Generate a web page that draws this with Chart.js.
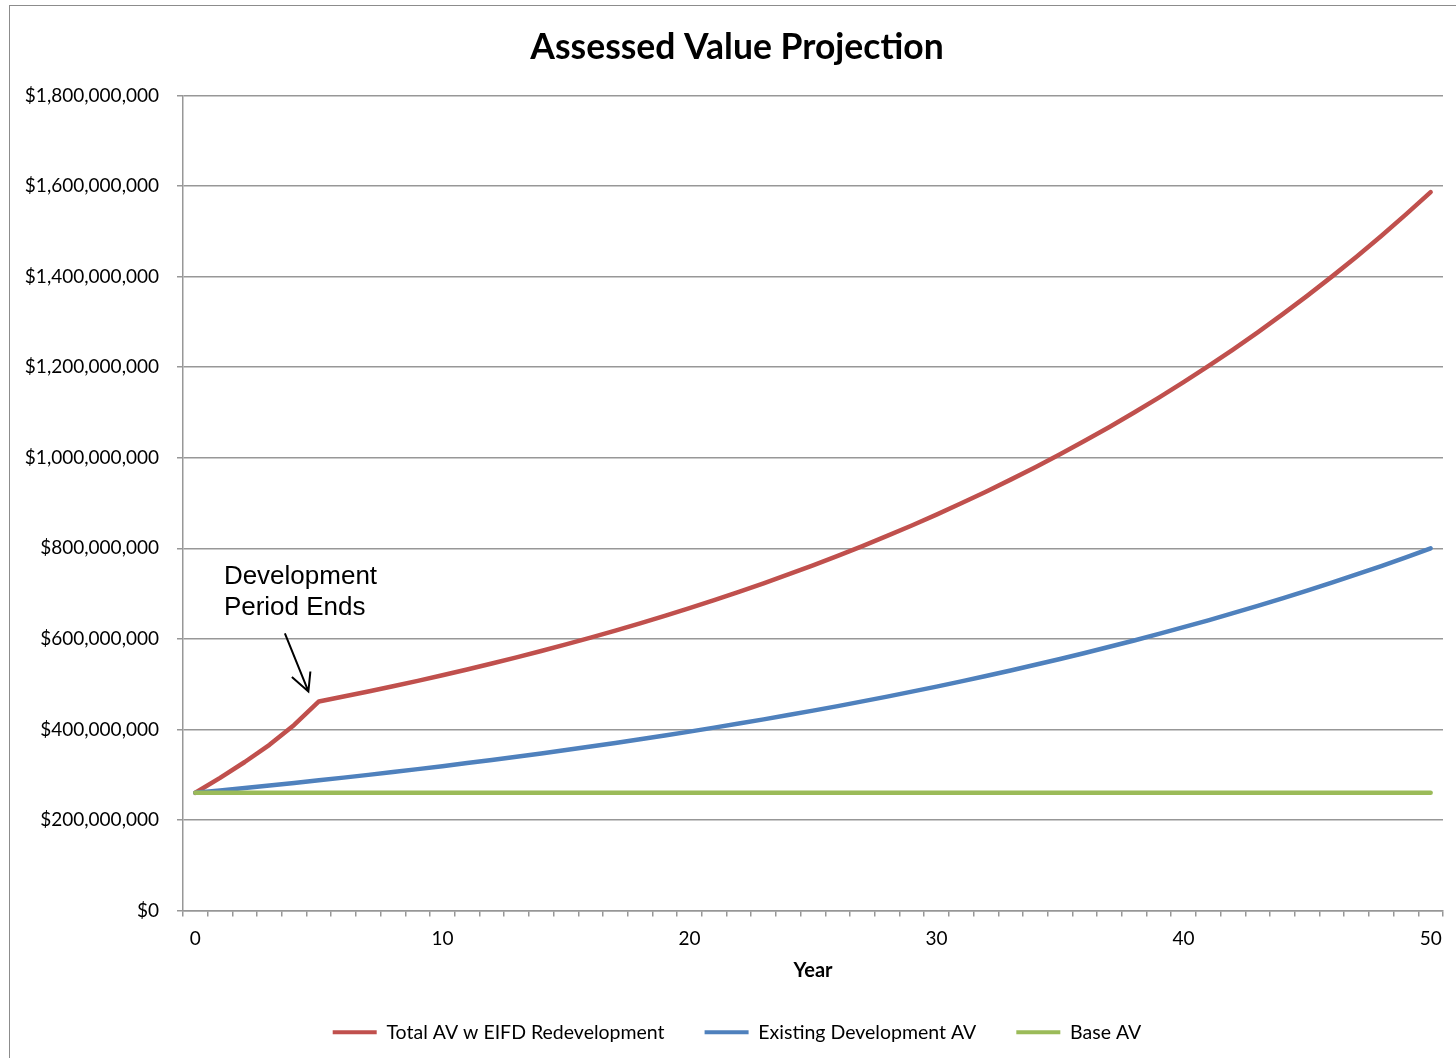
<!DOCTYPE html>
<html>
<head>
<meta charset="utf-8">
<title>Assessed Value Projection</title>
<script src="https://cdn.jsdelivr.net/npm/chart.js@4.4.1/dist/chart.umd.min.js"></script>
<style>
    html, body { margin: 0; padding: 0; background: #fff; overflow: hidden; }
    #frame {
        position: absolute; left: 9px; top: 5px; width: 1460px; height: 1060px;
        border-left: 1px solid #8c8c8c; border-top: 1px solid #8c8c8c;
    }
    #wrap { position: absolute; left: 10px; top: 6px; width: 1446px; height: 1052px; }
</style>
</head>
<body>
<div id="frame"></div>
<div id="wrap"><canvas id="avChart"></canvas></div>
<script>
// projection years 0..50
const years = Array.from({ length: 51 }, (_, i) => i);
const xTickLabels = [0, 10, 20, 30, 40, 50];

// values in $ millions
const totalAV = [
    260, 293, 328, 366, 410, 461.7, 472.6, 483.8, 495.4, 507.3,
    519.7, 532.4, 545.6, 559.2, 573.2, 587.7, 602.7, 618.2, 634.2, 650.7,
    667.8, 685.5, 703.8, 722.7, 742.2, 762.4, 783.3, 805.0, 827.4, 850.5,
    874.5, 899.4, 925.1, 951.7, 979.3, 1007.8, 1037.4, 1068.1, 1099.9, 1132.8,
    1167.0, 1202.4, 1239.1, 1277.2, 1316.7, 1357.6, 1400.1, 1444.2, 1490.0, 1537.6,
    1586.9
];
const existingAV = [
    260.0, 265.2, 270.6, 276.1, 281.8, 287.5, 293.5, 299.6, 305.8, 312.3,
    318.8, 325.6, 332.5, 339.6, 347.0, 354.5, 362.2, 370.1, 378.2, 386.5,
    395.1, 403.9, 412.9, 422.2, 431.7, 441.5, 451.5, 461.9, 472.5, 483.4,
    494.6, 506.2, 518.0, 530.2, 542.7, 555.6, 568.9, 582.5, 596.5, 610.9,
    625.8, 641.0, 656.7, 672.9, 689.5, 706.6, 724.2, 742.3, 760.9, 780.1,
    799.9
];
const baseAV = [
    260, 260, 260, 260, 260, 260, 260, 260, 260, 260,
    260, 260, 260, 260, 260, 260, 260, 260, 260, 260,
    260, 260, 260, 260, 260, 260, 260, 260, 260, 260,
    260, 260, 260, 260, 260, 260, 260, 260, 260, 260,
    260, 260, 260, 260, 260, 260, 260, 260, 260, 260,
    260
];

const devEndYear = 5;
const devNote = ['Development', 'Period Ends'];

const GRID = '#979797';
const FONT = 'Lato, "Open Sans", sans-serif';

function fmtDollars(v) {
    return '$' + Math.round(v * 1e6).toLocaleString('en-US');
}

// callout text + arrow pointing at the end of the development period
const devCallout = {
    id: 'devCallout',
    afterDatasetsDraw(chart) {
        const ctx = chart.ctx;
        const px = chart.scales.x.getPixelForValue(devEndYear);
        const py = chart.scales.y.getPixelForValue(totalAV[devEndYear]);
        ctx.save();
        ctx.fillStyle = '#000';
        ctx.font = '26px "Liberation Sans", Arial, sans-serif';
        ctx.textBaseline = 'middle';
        ctx.textAlign = 'left';
        ctx.fillText(devNote[0], px - 95, py - 125);
        ctx.fillText(devNote[1], px - 95, py - 94);

        const tipX = px - 10.5, tipY = py - 10;
        ctx.strokeStyle = '#000';
        ctx.lineWidth = 2;
        ctx.beginPath();
        ctx.moveTo(px - 34, py - 68);
        ctx.lineTo(tipX, tipY);
        ctx.moveTo(px - 27, py - 24.5);
        ctx.lineTo(tipX, tipY);
        ctx.lineTo(px - 8.5, py - 30);
        ctx.stroke();
        ctx.restore();
    }
};

const ctx = document.getElementById('avChart').getContext('2d');

new Chart(ctx, {
    type: 'line',
    data: {
        labels: years,
        datasets: [{
            label: 'Total AV w EIFD Redevelopment',
            data: totalAV,
            borderColor: '#C0504D',
            backgroundColor: '#C0504D',
            order: 2
        }, {
            label: 'Existing Development AV',
            data: existingAV,
            borderColor: '#4F81BD',
            backgroundColor: '#4F81BD',
            order: 1
        }, {
            label: 'Base AV',
            data: baseAV,
            borderColor: '#9BBB59',
            backgroundColor: '#9BBB59',
            order: 0
        }]
    },
    options: {
        responsive: true,
        maintainAspectRatio: false,
        animation: false,
        layout: { padding: { left: 21, right: 13, top: 0, bottom: 6 } },
        elements: {
            line: { borderWidth: 4.5, tension: 0, borderCapStyle: 'round', borderJoinStyle: 'round' },
            point: { radius: 0, hoverRadius: 0 }
        },
        plugins: {
            title: {
                display: true,
                text: 'Assessed Value Projection',
                color: '#000',
                font: { family: FONT, size: 35.5, weight: 'bold' },
                padding: { top: 20, bottom: 27 }
            },
            legend: {
                position: 'bottom',
                labels: {
                    color: '#000',
                    font: { family: FONT, size: 19.5 },
                    boxWidth: 44,
                    boxHeight: 4,
                    padding: 40,
                    sort: (a, b) => a.datasetIndex - b.datasetIndex,
                    generateLabels(chart) {
                        const items = Chart.defaults.plugins.legend.labels.generateLabels(chart);
                        items.forEach(it => { it.fillStyle = it.strokeStyle; it.lineWidth = 0; });
                        return items;
                    }
                }
            },
            tooltip: { enabled: false }
        },
        scales: {
            x: {
                type: 'category',
                offset: true,
                grid: {
                    offset: true,
                    drawOnChartArea: false,
                    drawTicks: true,
                    tickLength: 6,
                    color: GRID,
                    lineWidth: 1.5
                },
                border: { color: GRID, width: 1.5 },
                ticks: {
                    autoSkip: false,
                    maxRotation: 0,
                    padding: 11,
                    color: '#000',
                    font: { family: FONT, size: 19 },
                    callback: (val, idx) => xTickLabels.includes(years[idx]) ? String(years[idx]) : ''
                },
                title: {
                    display: true,
                    text: 'Year',
                    color: '#000',
                    font: { family: FONT, size: 20, weight: 'bold' },
                    padding: { top: 10, bottom: 0 }
                },
                afterFit(scale) { scale.height = 72; }
            },
            y: {
                min: 0,
                max: 1800,
                grid: { color: GRID, lineWidth: 1.5, tickLength: 6 },
                border: { color: GRID, width: 1.5 },
                ticks: {
                    stepSize: 200,
                    padding: 18,
                    color: '#000',
                    font: { family: FONT, size: 19 },
                    callback: v => fmtDollars(v)
                },
                afterFit(scale) { scale.width = 152; },
                // let the long dollar labels run into the left padding
                afterUpdate(scale) { scale._computeLabelArea = () => null; }
            }
        }
    },
    plugins: [devCallout]
});
</script>
</body>
</html>
